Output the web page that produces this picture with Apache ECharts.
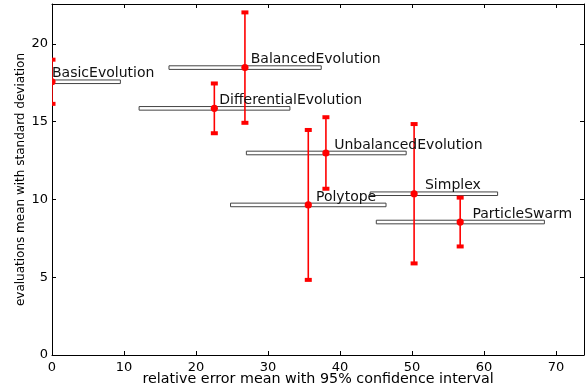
<!DOCTYPE html>
<html>
<head>
<meta charset="utf-8">
<script src="https://cdn.jsdelivr.net/npm/echarts@6/dist/echarts.min.js"></script>
<style>
  html, body { margin: 0; padding: 0; background: #fff; }
  #main { width: 588px; height: 392px; }
</style>
</head>
<body>
<div id="main"></div>
<script>
// algorithms
const names = ["BasicEvolution", "BalancedEvolution", "DifferentialEvolution",
  "UnbalancedEvolution", "Polytope", "Simplex", "ParticleSwarm"];
// relative error mean and 95% confidence interval
const errMean = [0, 26.8, 22.55, 38.05, 35.6, 50.3, 56.7];
const errLow = [0, 16.25, 12.1, 27.0, 24.8, 44.2, 45.05];
const errHigh = [9.5, 37.4, 33.05, 49.2, 46.4, 61.9, 68.4];
// evaluations mean and standard deviation
const evalMean = [17.57, 18.48, 15.86, 12.99, 9.65, 10.37, 8.55];
const evalStd = [1.42, 3.55, 1.6, 2.3, 4.82, 4.48, 1.57];

const xTicks = [0, 10, 20, 30, 40, 50, 60, 70];
const yTicks = [0, 5, 10, 15, 20];

const chart = echarts.init(document.getElementById("main"));

const font = "DejaVu Sans";
const black = "#000";
const red = "#ff0000";

const boxData = names.map((n, i) => [errLow[i], errHigh[i], evalMean[i]]);
const barData = names.map((n, i) => [errMean[i], evalMean[i] - evalStd[i], evalMean[i] + evalStd[i], evalMean[i]]);
const labelData = names.map((n, i) => [errMean[i] * 1.03, evalMean[i], n]);

const baseAxis = {
  axisLine: { show: true, onZero: false, lineStyle: { color: black, width: 1 } },
  axisTick: { show: true, inside: true, length: 4, lineStyle: { color: black } },
  splitLine: { show: false },
};

function plotClip(params) {
  const c = params.coordSys;
  return { type: "rect", shape: { x: c.x, y: c.y, width: c.width, height: c.height } };
}

const options = {
  animation: false,
  grid: { left: 52, right: 4, top: 4, bottom: 37, containLabel: false, outerBoundsMode: "none" },
  xAxis: [
    {
      ...baseAxis,
      type: "value",
      min: 0,
      max: 73.9,
      interval: 10,
      position: "bottom",
      name: "relative error mean with 95% confidence interval",
      nameLocation: "middle",
      nameGap: 24,
      nameMoveOverlap: false,
      nameTextStyle: { fontFamily: font, fontSize: 14.3, color: black, verticalAlign: "middle" },
      axisLabel: {
        fontFamily: font, fontSize: 13, color: black, margin: 6, showMaxLabel: false,
        formatter: (v) => (xTicks.indexOf(v) >= 0 ? String(v) : ""),
      },
    },
    {
      ...baseAxis,
      type: "value",
      min: 0,
      max: 73.9,
      interval: 10,
      position: "top",
      axisLabel: { show: false },
    },
  ],
  yAxis: [
    {
      ...baseAxis,
      type: "value",
      min: 0,
      max: 22.57,
      interval: 5,
      position: "left",
      name: "evaluations mean with standard deviation",
      nameLocation: "middle",
      nameGap: 31,
      nameMoveOverlap: false,
      nameTextStyle: { fontFamily: font, fontSize: 12, color: black, verticalAlign: "middle" },
      axisLabel: {
        fontFamily: font, fontSize: 13, color: black, margin: 4, showMaxLabel: false,
        formatter: (v) => (yTicks.indexOf(v) >= 0 ? String(v) : ""),
      },
    },
    {
      ...baseAxis,
      type: "value",
      min: 0,
      max: 22.57,
      interval: 5,
      position: "right",
      axisLabel: { show: false },
    },
  ],
  series: [
    {
      // confidence interval boxes
      type: "custom",
      z: 2,
      data: boxData,
      renderItem: function (params, api) {
        const p1 = api.coord([api.value(0), api.value(2)]);
        const p2 = api.coord([api.value(1), api.value(2)]);
        return {
          type: "rect",
          clipPath: plotClip(params),
          shape: { x: p1[0], y: p1[1] - 1.8, width: p2[0] - p1[0], height: 3.6 },
          style: { fill: "#fff", stroke: "#444", lineWidth: 1 },
        };
      },
    },
    {
      // standard deviation error bars with the mean point
      type: "custom",
      z: 3,
      data: barData,
      renderItem: function (params, api) {
        const lo = api.coord([api.value(0), api.value(1)]);
        const hi = api.coord([api.value(0), api.value(2)]);
        const mid = api.coord([api.value(0), api.value(3)]);
        const capW = 7, capH = 4;
        return {
          type: "group",
          clipPath: plotClip(params),
          children: [
            {
              type: "line",
              shape: { x1: lo[0], y1: lo[1], x2: hi[0], y2: hi[1] },
              style: { stroke: red, lineWidth: 1.6 },
            },
            {
              type: "rect",
              shape: { x: lo[0] - capW / 2, y: lo[1] - capH / 2, width: capW, height: capH },
              style: { fill: red },
            },
            {
              type: "rect",
              shape: { x: hi[0] - capW / 2, y: hi[1] - capH / 2, width: capW, height: capH },
              style: { fill: red },
            },
            {
              type: "circle",
              shape: { cx: mid[0], cy: mid[1], r: 3.6 },
              style: { fill: red },
            },
          ],
        };
      },
    },
    {
      // algorithm names
      type: "custom",
      z: 5,
      data: labelData,
      renderItem: function (params, api) {
        const p = api.coord([api.value(0), api.value(1)]);
        return {
          type: "text",
          x: p[0],
          y: p[1] - 8,
          style: {
            text: labelData[params.dataIndex][2],
            fontFamily: font,
            fontSize: 14,
            fill: "#111",
            align: "left",
            verticalAlign: "middle",
          },
        };
      },
    },
  ],
};

chart.setOption(options);
</script>
</body>
</html>
